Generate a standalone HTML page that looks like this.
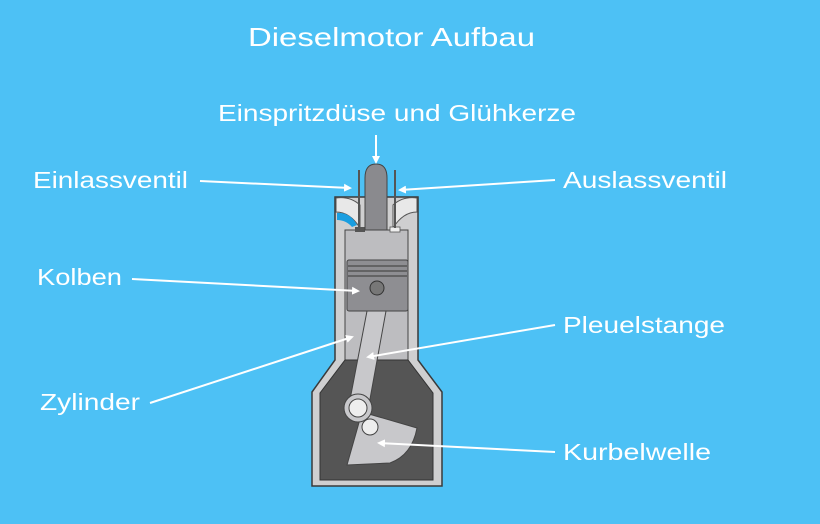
<!DOCTYPE html>
<html><head><meta charset="utf-8"><style>
html,body{margin:0;padding:0;background:#4dc1f5;}
svg{display:block}
text{font-family:"Liberation Sans","DejaVu Sans",sans-serif;fill:#fff}
</style></head><body>
<svg width="820" height="524" viewBox="0 0 820 524" xmlns="http://www.w3.org/2000/svg">
<rect width="820" height="524" fill="#4dc1f5"/>
<defs><marker id="a" markerWidth="8" markerHeight="8" refX="6" refY="4" orient="auto" markerUnits="userSpaceOnUse"><path d="M0,0 L8,4 L0,8 Z" fill="#fff"/></marker></defs>
<text x="248" y="46" font-size="26" textLength="287" lengthAdjust="spacingAndGlyphs">Dieselmotor Aufbau</text>
<text x="218" y="121" font-size="23" textLength="358" lengthAdjust="spacingAndGlyphs">Einspritzdüse und Glühkerze</text>
<text x="33" y="188" font-size="23" textLength="155" lengthAdjust="spacingAndGlyphs">Einlassventil</text>
<text x="563" y="188" font-size="23" textLength="164" lengthAdjust="spacingAndGlyphs">Auslassventil</text>
<text x="37" y="285" font-size="23" textLength="85" lengthAdjust="spacingAndGlyphs">Kolben</text>
<text x="563" y="333" font-size="23" textLength="162" lengthAdjust="spacingAndGlyphs">Pleuelstange</text>
<text x="40" y="410" font-size="23" textLength="100" lengthAdjust="spacingAndGlyphs">Zylinder</text>
<text x="563" y="460" font-size="23" textLength="148" lengthAdjust="spacingAndGlyphs">Kurbelwelle</text>
<!-- body -->
<path d="M335,197 L418,197 L418,360 L442,392 L442,486 L312,486 L312,392 L335,360 Z" fill="#cfcfd0" stroke="#3a3a3a" stroke-width="1.5"/>
<path d="M345,230 L408,230 L408,362 L345,362 Z" fill="#bdbdc0" stroke="#444" stroke-width="1"/>
<path d="M345,360 L408,360 L433,393 L433,480 L320,480 L320,393 Z" fill="#555" stroke="#333" stroke-width="1"/>
<!-- ports -->
<path d="M336,198 Q350,196 360,205 L360,228 Q350,212 336,212 Z" fill="#e8e8e8" stroke="#555" stroke-width="1"/>
<path d="M337,213 Q350,212 357,225 L352,227 Q346,220 337,220 Z" fill="#1a9ee0"/>
<path d="M417,198 Q403,196 393,205 L393,228 Q403,212 417,212 Z" fill="#e8e8e8" stroke="#555" stroke-width="1"/>
<rect x="355" y="227" width="10" height="5" fill="#555"/>
<rect x="390" y="227" width="10" height="5" fill="#eee" stroke="#555" stroke-width="0.8"/>
<line x1="359" y1="170" x2="359" y2="228" stroke="#555" stroke-width="2"/>
<line x1="395" y1="170" x2="395" y2="228" stroke="#555" stroke-width="2"/>
<path d="M365,230 L365,178 Q365,164 376,164 Q387,164 387,178 L387,230 Z" fill="#8a8a8e" stroke="#444" stroke-width="1"/>
<!-- piston -->
<rect x="347" y="260" width="61" height="51" rx="2" fill="#8e8e92" stroke="#444" stroke-width="1"/>
<g stroke="#555" stroke-width="1.5"><line x1="348" y1="266" x2="407" y2="266"/><line x1="348" y1="271" x2="407" y2="271"/><line x1="348" y1="276" x2="407" y2="276"/></g>
<circle cx="377" cy="288" r="7" fill="#777" stroke="#333" stroke-width="1"/>
<!-- crank web -->
<path d="M362,412 L417,428 Q412,455 390,463 L347,465 Z" fill="#c8c8cb" stroke="#444" stroke-width="1"/>
<!-- rod -->
<path d="M367,311 L386,311 L368,410 L349,405 Z" fill="#c8c8cb" stroke="#444" stroke-width="1"/>
<circle cx="358" cy="408" r="14" fill="#c8c8cb" stroke="#444" stroke-width="1"/>
<circle cx="358" cy="408" r="9" fill="#eee" stroke="#444" stroke-width="1"/>
<circle cx="370" cy="427" r="8" fill="#eee" stroke="#444" stroke-width="1"/>
<g stroke="#fff" stroke-width="2" fill="none" marker-end="url(#a)">
<line x1="376" y1="135" x2="376" y2="162"/>
<line x1="200" y1="181" x2="350" y2="188"/>
<line x1="555" y1="180" x2="400" y2="190"/>
<line x1="132" y1="279" x2="358" y2="291"/>
<line x1="150" y1="403" x2="352" y2="337"/>
<line x1="555" y1="325" x2="368" y2="357"/>
<line x1="555" y1="452" x2="379" y2="443"/>
</g>
</svg>
</body></html>
